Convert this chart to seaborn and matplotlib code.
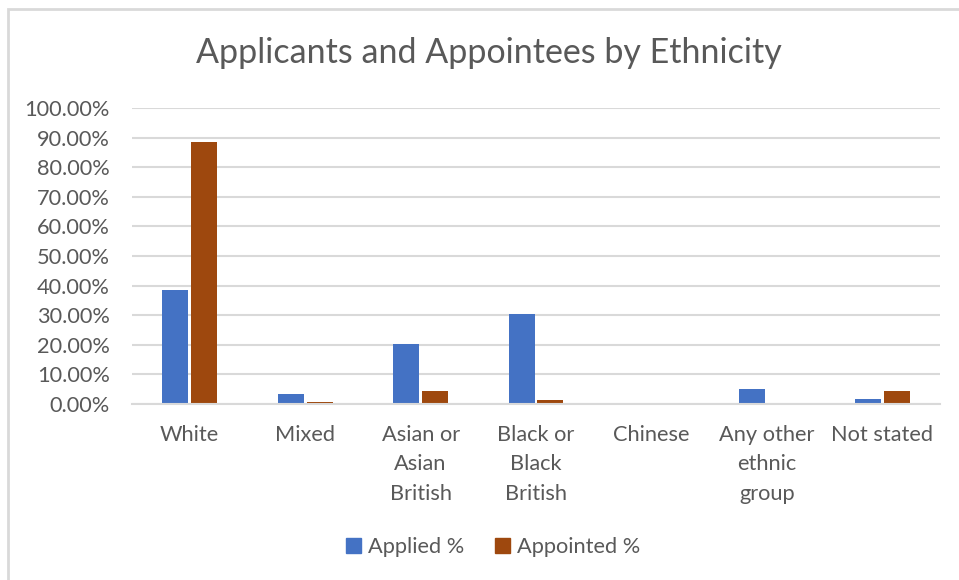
import pandas as pd
import matplotlib.pyplot as plt
import seaborn as sns
from matplotlib.patches import Rectangle
from matplotlib.ticker import FuncFormatter

categories = ["White", "Mixed", "Asian or\nAsian\nBritish", "Black or\nBlack\nBritish",
              "Chinese", "Any other\nethnic\ngroup", "Not stated"]
applied = [38.4, 3.4, 20.3, 30.3, 0.0, 5.1, 1.7]
appointed = [88.4, 0.8, 4.4, 1.35, 0.0, 0.0, 4.3]
series = ["Applied %", "Appointed %"]
colors = ["#4472C4", "#9E480E"]

df = pd.DataFrame({
    "category": categories * 2,
    "value": applied + appointed,
    "series": [series[0]] * len(categories) + [series[1]] * len(categories),
})

sns.set_style("white")
plt.rcParams['font.family'] = ['Lato', 'DejaVu Sans']
text_col = "#595959"
grid_col = "#D9D9D9"

fig = plt.figure(figsize=(9.59, 5.8), dpi=100)
ax = fig.add_axes([132 / 959, 1 - 404 / 580, (940 - 132) / 959, (404 - 108) / 580])

sns.barplot(data=df, x="category", y="value", hue="series", palette=colors,
            saturation=1, width=0.5, gap=0.1, linewidth=0, ax=ax, legend=False)

ax.set_ylim(0, 100)
ax.set_yticks(range(0, 101, 10))
ax.yaxis.set_major_formatter(FuncFormatter(lambda v, p: f"{v:.2f}%"))
ax.set_xlabel("")
ax.set_ylabel("")
ax.grid(axis="y", color=grid_col, linewidth=1.5)
ax.set_axisbelow(True)
for s in ["top", "right", "left"]:
    ax.spines[s].set_visible(False)
ax.spines["bottom"].set_color(grid_col)
ax.spines["bottom"].set_linewidth(1.5)
ax.tick_params(axis="y", length=0, pad=16, labelsize=15.7, labelcolor=text_col)
ax.tick_params(axis="x", length=0, pad=15, labelsize=15.7, labelcolor=text_col)
for lbl in ax.get_xticklabels():
    lbl.set_linespacing(1.6)
    lbl.set_verticalalignment("top")

fig.text(489 / 959, 1 - 53 / 580, "Applicants and Appointees by Ethnicity",
         ha="center", va="center", fontsize=24.5, color=text_col)

handles = [Rectangle((0, 0), 1, 1, color=c) for c in colors]
fig.legend(handles, series, loc="center", bbox_to_anchor=(493 / 959, 1 - 547 / 580),
           ncol=2, frameon=False, fontsize=15.7, labelcolor=text_col,
           handlelength=0.7, handleheight=0.7, handletextpad=0.3, columnspacing=1.4)

# chart border (only top and left edges visible in the reference)
fig.patches.append(Rectangle((8 / 959, -0.05), 1.1, 1 - 9 / 580 + 0.05,
                             transform=fig.transFigure, fill=False,
                             edgecolor=grid_col, linewidth=2))

fig.savefig("out.png", dpi=100, facecolor="white")
